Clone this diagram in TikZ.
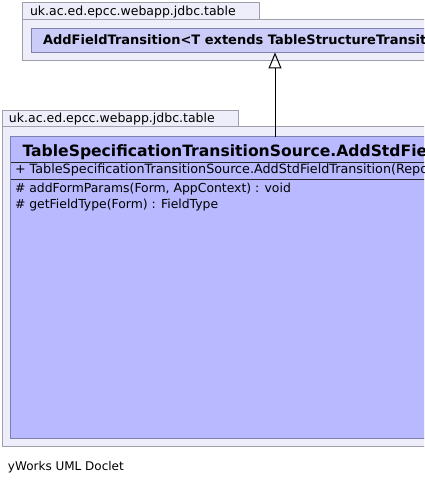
\documentclass[tikz,border=0pt]{standalone}
\usepackage{fontspec}
\setmainfont{DejaVu Sans}
\usetikzlibrary{arrows.meta}
\definecolor{pkgfill}{HTML}{EEEEFA}
\definecolor{pkgline}{HTML}{A0A0AC}
\definecolor{clsfillA}{HTML}{CCCCF8}
\definecolor{clsfillB}{HTML}{B9B9FF}
\definecolor{clsline}{HTML}{8080B0}
\tikzset{
  pkg/.style={draw=pkgline, fill=pkgfill, line width=1pt},
  cls/.style={draw=clsline, line width=1pt},
  txt/.style={anchor=base west, inner sep=0pt, outer sep=0pt},
  pkglabel/.style={txt, font=\fontsize{12.5}{14}\selectfont},
  member/.style={txt, font=\fontsize{12.4}{14}\selectfont},
}
\begin{document}
\begin{tikzpicture}[x=1pt,y=-1pt]
\useasboundingbox (0,0) rectangle (424,484);
\clip (0,0) rectangle (424,484);
\fill[white] (0,0) rectangle (424,484);
% top package
\draw[pkg] (22.5,2.5) rectangle (259.5,19.5);
\draw[pkg] (22.5,19.5) rectangle (440,60.5);
\node[pkglabel] (ptopl) at (30,16) {uk.ac.ed.epcc.webapp.jdbc.table};
\draw[cls, fill=clsfillA] (31.5,28.5) rectangle (440,52.5);
\coordinate (topcls) at (275,52.5);
\node[txt, font=\fontsize{13}{15}\bfseries\selectfont] (ttop) at (43,45) {AddFieldTransition<T extends TableStructureTransitionTarget>};
% bottom package
\draw[pkg] (2.5,110.5) rectangle (238.5,126.5);
\draw[pkg] (2.5,126.5) rectangle (440,446.5);
\node[pkglabel] (pbotl) at (9,123) {uk.ac.ed.epcc.webapp.jdbc.table};
\draw[cls, fill=clsfillB] (10.5,136.5) rectangle (440,438.5);
\coordinate (botcls) at (275,136.5);
\node[txt, font=\fontsize{15.6}{18}\bfseries\selectfont] (tbot) at (22.5,156.5) {TableSpecificationTransitionSource.AddStdFieldTransition};
\draw[black!85, line width=1pt] (10.5,162.5) -- (440,162.5);
\node[member, font=\fontsize{12.75}{14}\selectfont] (m0) at (15,173.5) {+ TableSpecificationTransitionSource.AddStdFieldTransition(Repository)};
\draw[black!85, line width=1pt] (10.5,179.5) -- (440,179.5);
\node[member] (m1) at (15,192.5) {\# addFormParams(Form, AppContext) : void};
\node[member] (m2) at (15,208) {\# getFieldType(Form) : FieldType};
% inheritance arrow
\draw[line width=1pt, -{Triangle[open, width=13pt, length=16pt]}] (botcls) -- (topcls);
\node[txt, font=\fontsize{12}{14}\selectfont] (foot) at (8,470) {yWorks UML Doclet};
\end{tikzpicture}
\end{document}
